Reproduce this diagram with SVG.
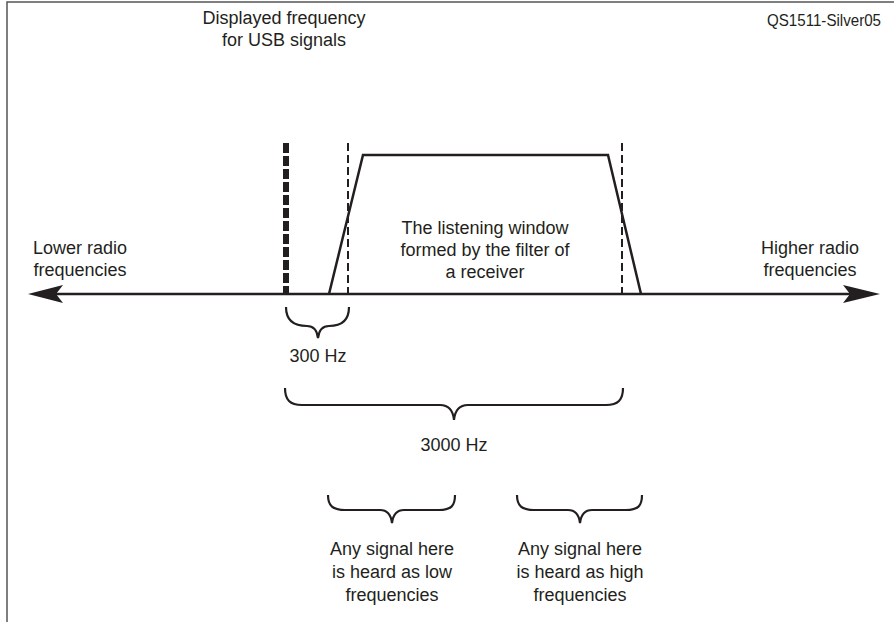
<svg xmlns="http://www.w3.org/2000/svg" width="894" height="622" viewBox="0 0 894 622">
<style>
.t{font-family:"Liberation Sans",Arial,sans-serif;font-size:18px;fill:#231f20;text-anchor:middle}
.ln{stroke:#231f20;stroke-width:2.5;fill:none}
.br{stroke:#231f20;stroke-width:2.2;fill:none}
.ds{stroke:#231f20;stroke-width:2;stroke-dasharray:8 4;fill:none}
</style>
<rect width="894" height="622" fill="#fff"/>
<g id="frame"><path d="M7,622 V2 H894" stroke="#555" stroke-width="1.5" fill="none"/></g>
<g id="connectors">
<line class="ln" x1="40" y1="294" x2="868" y2="294"/>
<path d="M28,294 L63,285 L56,294 L63,303 Z" fill="#231f20"/>
<path d="M880,294 L843,285 L850,294 L843,303 Z" fill="#231f20"/>
</g>
<g id="usb-marker"><line x1="286" y1="143" x2="286" y2="294" stroke="#231f20" stroke-width="6" stroke-dasharray="10 3"/></g>
<g id="dash-left"><line class="ds" x1="348" y1="143" x2="348" y2="294"/></g>
<g id="dash-right"><line class="ds" x1="622" y1="143" x2="622" y2="294"/></g>
<g id="window"><path class="ln" d="M329,294 L363,155 L608,155 L641,294"/></g>
<g id="brace-300"><path class="br" d="M286,307 C286,321 295,326 307,326 C313,326 317,330 318,338 C319,330 323,326 329,326 C341,326 349,321 349,307"/></g>
<g id="brace-3000"><path class="br" d="M285,388 C285,400 290,405 302,405 L440,405 C448,405 453,410 454,420 C455,410 460,405 468,405 L606,405 C618,405 623,400 623,388"/></g>
<g id="brace-low"><path class="br" d="M328,495 C328,506 333,510 345,510 L380,510 C387,510 391,515 392,523 C393,515 397,510 404,510 L439,510 C451,510 455,506 455,495"/></g>
<g id="brace-high"><path class="br" d="M517,495 C517,506 522,510 534,510 L568,510 C575,510 579,515 580,523 C581,515 585,510 592,510 L626,510 C638,510 642,506 642,495"/></g>
<g id="labels">
<text class="t" x="284" y="24">Displayed frequency</text>
<text class="t" x="284" y="46">for USB signals</text>
<text class="t" x="824" y="26" style="font-size:17px" textLength="114" lengthAdjust="spacingAndGlyphs">QS1511-Silver05</text>
<text class="t" x="485" y="234">The listening window</text>
<text class="t" x="485" y="256">formed by the filter of</text>
<text class="t" x="485" y="278">a receiver</text>
<text class="t" x="80" y="254">Lower radio</text>
<text class="t" x="80" y="276">frequencies</text>
<text class="t" x="810" y="254">Higher radio</text>
<text class="t" x="810" y="276">frequencies</text>
<text class="t" x="318" y="362">300 Hz</text>
<text class="t" x="454" y="451">3000 Hz</text>
<text class="t" x="392" y="555">Any signal here</text>
<text class="t" x="392" y="578">is heard as low</text>
<text class="t" x="392" y="601">frequencies</text>
<text class="t" x="580" y="555">Any signal here</text>
<text class="t" x="580" y="578">is heard as high</text>
<text class="t" x="580" y="601">frequencies</text>
</g>
</svg>
